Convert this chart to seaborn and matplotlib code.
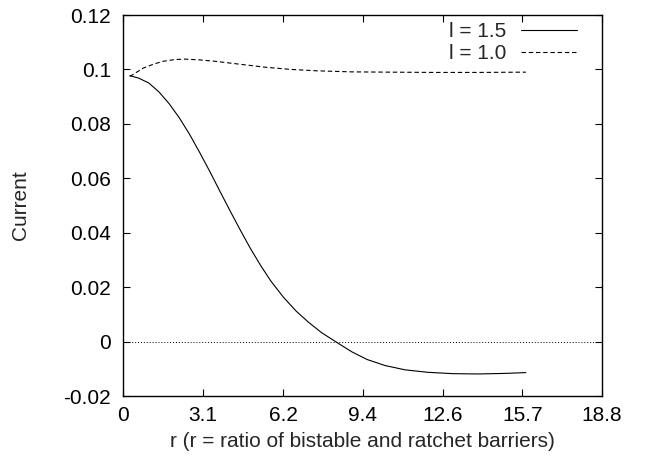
import numpy as np
import pandas as pd
import matplotlib
matplotlib.use("Agg")
import matplotlib.pyplot as plt
import seaborn as sns

# values
r_15 = [0.25, 0.6, 1.0, 1.4, 1.8, 2.2, 2.6, 3.0, 3.4, 3.8, 4.2, 4.6, 5.0,
        5.4, 5.8, 6.3, 6.8, 7.3, 7.8, 8.35, 9.0, 9.6, 10.3, 11.1, 12.0,
        13.0, 14.0, 15.0, 15.85]
cur_15 = [0.0977, 0.0968, 0.0950, 0.0917, 0.0874, 0.0822, 0.0762, 0.0695,
          0.0625, 0.0552, 0.0480, 0.0410, 0.0342, 0.0280, 0.0223, 0.0163,
          0.0112, 0.0070, 0.0033, 0.0, -0.0038, -0.0066, -0.0088, -0.0104,
          -0.0113, -0.0118, -0.0119, -0.0117, -0.0114]

r_10 = [0.25, 0.78, 1.2, 1.57, 2.0, 2.4, 3.0, 3.6, 4.5, 5.6, 6.6, 7.6, 9.0,
        10.5, 12.2, 14.0, 15.85]
cur_10 = [0.0974, 0.1005, 0.1020, 0.1030, 0.1036, 0.1038, 0.1035, 0.1030,
          0.1020, 0.1008, 0.1000, 0.0995, 0.0991, 0.0990, 0.0989, 0.0989,
          0.0990]

xticks = [0, np.pi, 2*np.pi, 3*np.pi, 4*np.pi, 5*np.pi, 6*np.pi]
xtick_labels = ["0", "3.1", "6.2", "9.4", "12.6", "15.7", "18.8"]
yticks = [-0.02, 0, 0.02, 0.04, 0.06, 0.08, 0.1, 0.12]
ytick_labels = ["-0.02", "0", "0.02", "0.04", "0.06", "0.08", "0.1", "0.12"]

df = pd.concat([
    pd.DataFrame({"r": r_15, "current": cur_15, "set": "l = 1.5"}),
    pd.DataFrame({"r": r_10, "current": cur_10, "set": "l = 1.0"}),
])

sns.set_style("ticks")
plt.rcParams['font.family'] = ['Liberation Sans', 'DejaVu Sans']
fs = 15

fig = plt.figure(figsize=(6.65, 4.63), dpi=100)
ax = fig.add_axes([0.1857, 0.1447, 0.7196, 0.8229])

# zero line
ax.axhline(0, color="black", lw=0.7, ls=(0, (1, 2)))
sns.lineplot(data=df, x="r", y="current", hue="set", style="set",
             palette=["black", "black"],
             dashes={"l = 1.5": "", "l = 1.0": (4, 2.5)},
             linewidth=0.8, sort=False, ax=ax)

ax.set_xlim(0, 6*np.pi)
ax.set_ylim(-0.02, 0.12)
ax.set_xticks(xticks)
ax.set_xticklabels(xtick_labels)
ax.set_yticks(yticks)
ax.set_yticklabels(ytick_labels)
ax.tick_params(direction="in", length=5, width=0.8, top=True, right=True,
               colors="black", labelsize=fs)
ax.tick_params(axis="x", pad=7)
ax.tick_params(axis="y", pad=9)
for s in ax.spines.values():
    s.set_linewidth(1.0)
    s.set_color("black")

ax.set_xlabel("r (r = ratio of bistable and ratchet barriers)", fontsize=fs,
              labelpad=5)
ax.set_ylabel("Current", fontsize=fs, labelpad=24)

leg = ax.legend(loc="upper right", bbox_to_anchor=(0.948, 0.982),
                frameon=False, markerfirst=False, handlelength=2.7,
                borderaxespad=0, borderpad=0, labelspacing=0.15,
                handletextpad=0.7, fontsize=fs)

fig.savefig("out.png", dpi=100)
